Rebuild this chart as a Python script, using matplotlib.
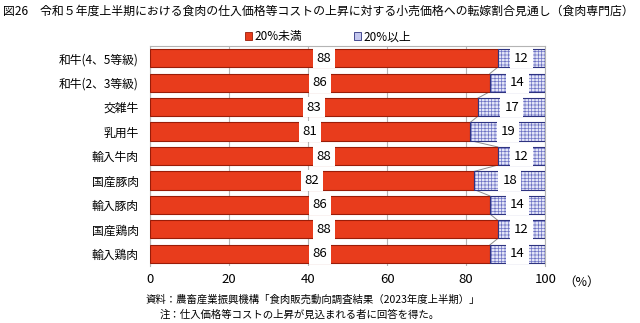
import matplotlib
matplotlib.use('Agg')
import matplotlib.pyplot as plt
from matplotlib.patches import Patch
import numpy as np

plt.rcParams['font.family'] = ['Noto Sans CJK JP', 'DejaVu Sans']
plt.rcParams['hatch.linewidth'] = 0.5

categories = ['和牛(4、5等級)', '和牛(2、3等級)', '交雑牛', '乳用牛', '輸入牛肉',
              '国産豚肉', '輸入豚肉', '国産鶏肉', '輸入鶏肉']
under20 = [88, 86, 83, 81, 88, 82, 86, 88, 86]
over20 = [12, 14, 17, 19, 12, 18, 14, 12, 14]
xticks = [0, 20, 40, 60, 80, 100]

red = '#e83c1c'
red_edge = '#9a1c08'
blue_face = '#e4e6f8'
blue_hatch = '#6e73c4'
blue_edge = '#2e3380'

fig = plt.figure(figsize=(6.4, 3.23), dpi=100)
ax = fig.add_axes([0.234, 0.176, 0.618, 0.682])

y = np.arange(len(categories))
h = 0.74
ax.barh(y, under20, height=h, color=red, edgecolor=red_edge, linewidth=0.8, zorder=3)
# hatched fill first, then a darker outline on top
ax.barh(y, over20, left=under20, height=h, color=blue_face, edgecolor=blue_hatch,
        hatch='+++++', linewidth=0, zorder=3)
ax.barh(y, over20, left=under20, height=h, fill=False, edgecolor=blue_edge,
        linewidth=0.8, zorder=3)

# series lines between neighbouring bars
for i in range(len(categories) - 1):
    ax.plot([under20[i], under20[i + 1]], [i + h / 2, i + 1 - h / 2],
            color='#8c8c8c', linewidth=0.7, zorder=2)

# value labels centred in each segment
for i in range(len(categories)):
    ax.text(under20[i] / 2, i, str(under20[i]), ha='center', va='center', fontsize=9.5,
            zorder=5, bbox=dict(facecolor='white', edgecolor='none', pad=2.8))
    ax.text(under20[i] + over20[i] / 2, i, str(over20[i]), ha='center', va='center',
            fontsize=9.5, zorder=5, bbox=dict(facecolor='white', edgecolor='none', pad=2.8))

ax.set_xlim(0, 100)
ax.set_ylim(len(categories) - 0.5, -0.5)
ax.set_yticks(y)
ax.set_yticklabels(categories, fontsize=8.5)
ax.set_xticks(xticks)
ax.set_xticklabels([str(t) for t in xticks], fontsize=9.5)
ax.tick_params(axis='y', length=0, pad=8)
ax.tick_params(axis='x', length=0, pad=5)
ax.grid(axis='x', color='#b4b4b4', linewidth=0.8, zorder=0)
for side in ['top', 'right', 'left']:
    ax.spines[side].set_color('#b4b4b4')
    ax.spines[side].set_linewidth(0.8)
ax.spines['bottom'].set_visible(False)

fig.text(0.880, 0.127, '（%）', fontsize=9, ha='left', va='center')

handles = [Patch(facecolor=red, edgecolor=red_edge, linewidth=0.6),
           Patch(facecolor='#c4c7ee', edgecolor=blue_edge, linewidth=0.6)]
fig.legend(handles, ['20%未満', '20%以上'], loc='center', bbox_to_anchor=(0.512, 0.886),
           ncol=2, frameon=False, fontsize=8.5, handlelength=0.6, handleheight=0.6,
           handletextpad=0.2, columnspacing=4.4)

fig.text(0.005, 0.965, '図26　令和５年度上半期における食肉の仕入価格等コストの上昇に対する小売価格への転嫁割合見通し（食肉専門店）',
         fontsize=8.55, ha='left', va='center')
fig.text(0.227, 0.072, '資料：農畜産業振興機構「食肉販売動向調査結果（2023年度上半期）」',
         fontsize=7.5, ha='left', va='center')
fig.text(0.25, 0.025, '注：仕入価格等コストの上昇が見込まれる者に回答を得た。',
         fontsize=7.5, ha='left', va='center')

fig.savefig('out.png', dpi=100)
